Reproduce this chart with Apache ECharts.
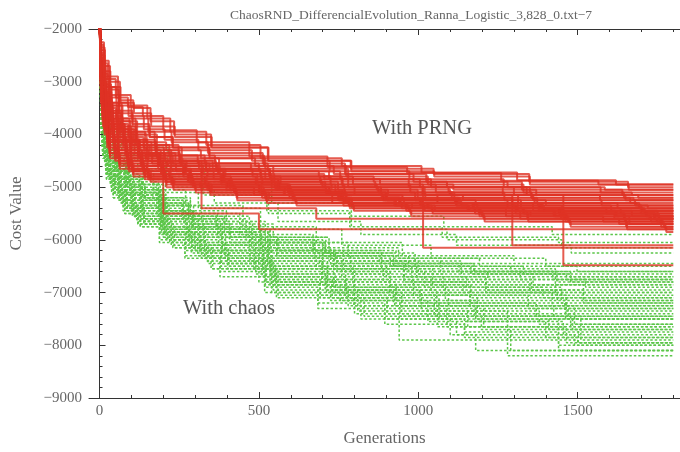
<!DOCTYPE html>
<html>
<head>
<meta charset="utf-8">
<script src="https://cdn.jsdelivr.net/npm/echarts@6/dist/echarts.min.js"></script>
<style>html,body{margin:0;padding:0;background:#fff}#c{width:680px;height:452px}</style>
</head>
<body>
<div id="c"></div>
<script>
const titleText = "ChaosRND_DifferencialEvolution_Ranna_Logistic_3,828_0.txt\u22127";
const xName = "Generations";
const yName = "Cost Value";
const labelPRNG = "With PRNG";
const labelChaos = "With chaos";
const xMajorTicks = [0, 500, 1000, 1500];
const xMinorTicks = [100,200,300,400,600,700,800,900,1100,1200,1300,1400,1600,1700,1800];
const xRange = [-33, 1821];
const yRange = [-9000, -2000];

// chaotic-map runs (green, dashed): [generation, best cost]
const greenRuns = [
 [[0,-1800],[3,-2400],[8,-3100],[16,-3450],[33,-3750],[66,-4000],[112,-4250],[215,-4600],[330,-4900],[540,-5300],[790,-5550],[1080,-5750],[1420,-5900],[1800,-5900]],
 [[0,-1800],[3,-2600],[9,-3400],[18,-3800],[35,-4100],[70,-4400],[120,-4650],[230,-5000],[360,-5300],[560,-5650],[820,-5900],[1120,-6100],[1480,-6250],[1800,-6250]],
 [[0,-1800],[2,-2700],[7,-3600],[14,-4100],[28,-4500],[55,-4850],[95,-5100],[180,-5500],[290,-5800],[470,-6200],[700,-6500],[980,-6800],[1350,-7000],[1800,-7000]],
 [[0,-1800],[3,-2900],[8,-3900],[15,-4400],[30,-4800],[58,-5150],[100,-5450],[195,-5850],[300,-6200],[490,-6650],[740,-7000],[1010,-7350],[1380,-7600],[1800,-7600]],
 [[0,-1800],[3,-3000],[9,-4100],[17,-4550],[34,-4900],[62,-5250],[105,-5550],[210,-6000],[320,-6350],[520,-6850],[780,-7250],[1060,-7650],[1290,-8100],[1800,-8100]],
 [[0,-1800],[2,-2500],[6,-3300],[13,-3800],[27,-4150],[52,-4450],[90,-4700],[170,-5050],[270,-5350],[450,-5750],[680,-6050],[950,-6300],[1300,-6450],[1800,-6450]],
 [[0,-1800],[3,-2800],[8,-3700],[16,-4200],[31,-4600],[60,-4950],[102,-5200],[200,-5600],[310,-5950],[500,-6350],[760,-6700],[1040,-7000],[1420,-7250],[1800,-7250]],
 [[0,-1800],[3,-2700],[8,-3550],[15,-4000],[29,-4350],[57,-4700],[98,-4950],[190,-5350],[295,-5650],[480,-6050],[720,-6400],[1000,-6650],[1360,-6850],[1800,-6850]],
 [[0,-1800],[4,-3000],[10,-4200],[19,-4650],[37,-5000],[72,-5350],[118,-5640],[225,-6100],[340,-6450],[540,-7000],[800,-7400],[940,-7900],[1500,-7950],[1800,-7950]],
 [[0,-1800],[3,-2600],[7,-3450],[14,-3900],[28,-4300],[55,-4600],[94,-4850],[185,-5250],[285,-5550],[470,-5950],[710,-6250],[990,-6500],[1330,-6650],[1800,-6650]],
 [[0,-1800],[3,-2900],[9,-3950],[17,-4450],[33,-4850],[65,-5200],[108,-5500],[205,-5900],[315,-6250],[510,-6700],[770,-7050],[1050,-7450],[1410,-7700],[1800,-7700]],
 [[0,-1800],[2,-2800],[7,-3800],[15,-4350],[30,-4750],[59,-5100],[100,-5400],[192,-5800],[298,-6100],[485,-6550],[735,-6900],[1005,-7200],[1370,-7450],[1800,-7450]],
 [[0,-1800],[3,-2500],[8,-3250],[16,-3650],[32,-3950],[64,-4250],[110,-4500],[210,-4850],[325,-5150],[530,-5500],[790,-5800],[1090,-6000],[1450,-6150],[1800,-6150]],
 [[0,-1800],[4,-3000],[10,-4150],[20,-4700],[38,-5050],[75,-5400],[122,-5700],[235,-6150],[355,-6550],[560,-7050],[830,-7450],[1100,-7800],[1180,-8100],[1800,-8100]],
 [[0,-1800],[3,-2750],[8,-3650],[15,-4150],[30,-4550],[58,-4900],[99,-5150],[195,-5550],[300,-5850],[490,-6250],[745,-6600],[1020,-6900],[1390,-7100],[1800,-7100]],
 [[0,-1800],[3,-2850],[9,-3850],[17,-4400],[33,-4800],[64,-5150],[106,-5450],[205,-5850],[318,-6200],[515,-6700],[775,-7100],[1065,-7500],[1440,-7800],[1800,-7800]],
 [[0,-1800],[2,-2600],[7,-3500],[14,-3950],[28,-4350],[54,-4650],[92,-4900],[180,-5300],[280,-5600],[460,-6000],[700,-6300],[970,-6600],[1320,-6750],[1800,-6750]],
 [[0,-1800],[3,-2700],[8,-3600],[16,-4100],[31,-4500],[61,-4850],[104,-5100],[202,-5500],[312,-5800],[505,-6200],[765,-6550],[1045,-6850],[1430,-7050],[1800,-7050]],
 [[0,-1800],[4,-2950],[10,-4050],[19,-4600],[36,-4950],[70,-5300],[115,-5600],[220,-6050],[335,-6400],[545,-6950],[810,-7350],[1280,-8200],[1800,-8200]],
 [[0,-1800],[3,-2550],[8,-3350],[15,-3800],[30,-4150],[60,-4450],[103,-4700],[200,-5100],[310,-5400],[505,-5800],[760,-6100],[1040,-6350],[1400,-6500],[1800,-6500]],
 [[0,-1800],[3,-2800],[9,-3750],[17,-4250],[33,-4650],[66,-5000],[111,-5300],[212,-5700],[328,-6050],[532,-6500],[795,-6850],[1085,-7150],[1460,-7350],[1800,-7350]],
 [[0,-1800],[2,-2650],[7,-3550],[14,-4050],[28,-4450],[56,-4800],[96,-5050],[188,-5450],[292,-5750],[478,-6150],[725,-6500],[995,-6750],[1355,-6950],[1800,-6950]],
 [[0,-1800],[3,-2900],[8,-3950],[16,-4500],[31,-4900],[61,-5250],[103,-5550],[200,-5950],[308,-6300],[500,-6800],[755,-7150],[1030,-7550],[1400,-7850],[1800,-7850]],
 [[0,-1800],[3,-2450],[8,-3200],[16,-3600],[32,-3900],[63,-4200],[108,-4450],[208,-4800],[322,-5100],[525,-5450],[785,-5750],[1075,-5950],[1440,-6050],[1800,-6050]],
 [[0,-1800],[4,-2850],[10,-3800],[18,-4300],[35,-4700],[68,-5050],[113,-5350],[218,-5750],[332,-6100],[538,-6550],[800,-6950],[1095,-7250],[1470,-7500],[1800,-7500]],
 [[0,-1800],[3,-2750],[8,-3700],[15,-4200],[29,-4600],[57,-4950],[97,-5200],[186,-5600],[288,-5950],[472,-6400],[715,-6750],[985,-7050],[1345,-7300],[1800,-7300]],
 [[0,-1800],[3,-2650],[8,-3500],[16,-3950],[32,-4350],[63,-4700],[107,-4950],[207,-5350],[320,-5650],[520,-6050],[780,-6350],[1070,-6600],[1435,-6800],[1800,-6800]],
 [[0,-1800],[3,-2950],[9,-4000],[18,-4550],[34,-4950],[67,-5300],[112,-5600],[214,-6000],[330,-6350],[535,-6850],[798,-7250],[1090,-7650],[1465,-7950],[1800,-7950]],
 [[0,-1800],[2,-2550],[6,-3400],[13,-3850],[26,-4250],[51,-4550],[88,-4800],[168,-5200],[265,-5500],[440,-5900],[670,-6200],[930,-6450],[1290,-6600],[1800,-6600]],
 [[0,-1800],[3,-2800],[8,-3800],[16,-4300],[31,-4700],[62,-5050],[105,-5350],[203,-5750],[315,-6100],[512,-6550],[772,-6950],[1058,-7250],[1425,-7500],[1800,-7500]],
 [[0,-1800],[3,-2700],[9,-3650],[17,-4150],[33,-4550],[65,-4900],[109,-5150],[210,-5550],[325,-5850],[528,-6300],[788,-6650],[1078,-6950],[1448,-7150],[1800,-7150]],
 [[0,-1800],[4,-3000],[10,-4250],[20,-4750],[38,-5100],[74,-5450],[120,-5700],[230,-6150],[350,-6550],[555,-7100],[820,-7500],[1120,-7800],[1490,-8000],[1800,-8000]],
 [[0,-1800],[2,-2600],[5,-3300],[11,-3900],[22,-4300],[44,-4650],[80,-4950],[130,-5200],[190,-5450],[270,-5700],[380,-5950],[520,-6200],[690,-6450],[900,-6700],[1150,-6900],[1450,-7100],[1800,-7100]],
 [[0,-1800],[3,-2800],[6,-3600],[12,-4200],[24,-4600],[47,-4950],[84,-5250],[136,-5500],[198,-5750],[282,-6000],[395,-6300],[540,-6600],[715,-6900],[930,-7150],[1185,-7400],[1490,-7600],[1800,-7600]],
 [[0,-1800],[2,-2500],[5,-3150],[10,-3700],[21,-4100],[42,-4450],[77,-4750],[126,-5000],[184,-5250],[262,-5500],[370,-5750],[508,-6000],[675,-6200],[885,-6400],[1135,-6550],[1430,-6700],[1800,-6700]],
 [[0,-1800],[3,-2900],[6,-3750],[12,-4350],[25,-4750],[49,-5100],[87,-5400],[140,-5650],[204,-5900],[290,-6200],[405,-6500],[552,-6800],[730,-7100],[948,-7400],[1205,-7650],[1510,-7900],[1800,-7900]],
 [[0,-1800],[2,-2700],[5,-3450],[11,-4000],[23,-4400],[45,-4750],[82,-5050],[132,-5300],[193,-5550],[275,-5800],[386,-6100],[528,-6350],[700,-6600],[912,-6850],[1165,-7050],[1465,-7250],[1800,-7250]],
 [[0,-1800],[3,-2550],[6,-3250],[12,-3800],[24,-4200],[46,-4550],[83,-4850],[134,-5100],[196,-5350],[279,-5600],[392,-5850],[535,-6100],[708,-6300],[922,-6500],[1175,-6650],[1478,-6800],[1800,-6800]],
 [[0,-1800],[2,-2950],[5,-3850],[11,-4450],[22,-4850],[43,-5200],[79,-5500],[128,-5750],[188,-6000],[268,-6300],[378,-6600],[518,-6900],[685,-7200],[895,-7500],[1145,-7750],[1440,-8000],[1800,-8000]],
 [[0,-1800],[3,-2650],[6,-3400],[13,-3950],[26,-4350],[50,-4700],[88,-5000],[142,-5250],[206,-5500],[293,-5750],[408,-6000],[556,-6250],[735,-6500],[955,-6750],[1212,-6950],[1518,-7150],[1800,-7150]],
 [[0,-1800],[2,-2750],[5,-3550],[11,-4100],[23,-4500],[45,-4850],[81,-5150],[131,-5400],[191,-5650],[273,-5950],[384,-6250],[526,-6500],[698,-6800],[910,-7050],[1162,-7300],[1462,-7500],[1800,-7500]],
 [[0,-1800],[3,-2450],[6,-3100],[12,-3650],[24,-4050],[47,-4400],[85,-4700],[137,-4950],[200,-5200],[285,-5450],[398,-5700],[545,-5950],[720,-6150],[938,-6350],[1192,-6500],[1498,-6600],[1800,-6600]],
 [[0,-1800],[2,-2850],[5,-3700],[11,-4300],[22,-4700],[44,-5050],[80,-5350],[129,-5600],[189,-5850],[270,-6150],[381,-6450],[522,-6750],[692,-7050],[902,-7300],[1155,-7550],[1455,-7750],[1800,-7750]],
 [[0,-1800],[3,-2600],[6,-3350],[13,-3900],[26,-4300],[50,-4650],[89,-4950],[143,-5200],[208,-5450],[296,-5700],[412,-5950],[560,-6200],[740,-6400],[960,-6600],[1218,-6750],[1525,-6900],[1800,-6900]],
 [[0,-1800],[2,-2650],[5,-3400],[11,-3950],[22,-4350],[43,-4700],[78,-5000],[127,-5250],[186,-5500],[265,-5750],[374,-6050],[514,-6300],[680,-6550],[890,-6800],[1140,-7000],[1436,-7200],[1800,-7200]],
 [[0,-1800],[3,-2950],[6,-3800],[12,-4400],[25,-4800],[48,-5150],[86,-5450],[139,-5700],[202,-5950],[288,-6250],[402,-6550],[550,-6850],[725,-7150],[942,-7450],[1198,-7700],[1502,-7950],[1800,-7950]],
 [[0,-1800],[2,-2550],[5,-3200],[10,-3750],[21,-4150],[42,-4500],[76,-4800],[124,-5050],[182,-5300],[259,-5550],[366,-5800],[504,-6050],[670,-6250],[878,-6450],[1128,-6600],[1422,-6750],[1800,-6750]],
 [[0,-1800],[3,-2800],[6,-3650],[12,-4250],[24,-4650],[47,-5000],[84,-5300],[135,-5550],[197,-5800],[281,-6100],[394,-6400],[538,-6700],[712,-7000],[926,-7250],[1180,-7500],[1484,-7700],[1800,-7700]],
 [[0,-1800],[2,-2700],[5,-3500],[11,-4050],[23,-4450],[45,-4800],[81,-5100],[131,-5350],[192,-5600],[274,-5850],[385,-6150],[527,-6400],[699,-6650],[911,-6900],[1163,-7100],[1464,-7300],[1800,-7300]],
 [[0,-1800],[3,-2500],[6,-3200],[12,-3750],[24,-4150],[46,-4500],[83,-4800],[134,-5050],[196,-5300],[279,-5550],[392,-5800],[535,-6050],[708,-6250],[922,-6450],[1175,-6600],[1478,-6700],[1800,-6700]],
 [[0,-1800],[2,-2900],[5,-3750],[11,-4350],[22,-4750],[44,-5100],[80,-5400],[129,-5650],[189,-5900],[270,-6200],[381,-6500],[522,-6800],[692,-7100],[902,-7400],[1155,-7650],[1455,-7850],[1800,-7850]],
 [[0,-1800],[3,-2600],[6,-3350],[13,-3900],[26,-4300],[50,-4650],[88,-4950],[142,-5200],[206,-5450],[293,-5700],[408,-5950],[556,-6200],[735,-6450],[955,-6700],[1212,-6850],[1518,-7000],[1800,-7000]],
 [[0,-1800],[2,-2750],[5,-3550],[11,-4100],[23,-4500],[45,-4850],[81,-5150],[131,-5400],[191,-5650],[273,-5900],[384,-6200],[526,-6450],[698,-6750],[910,-7000],[1162,-7200],[1462,-7400],[1800,-7400]],
 [[0,-1800],[3,-2850],[6,-3700],[12,-4300],[25,-4700],[49,-5050],[87,-5350],[140,-5600],[204,-5850],[290,-6150],[405,-6450],[552,-6750],[730,-7000],[948,-7250],[1205,-7450],[1510,-7650],[1800,-7650]],
 [[0,-1800],[2,-2600],[5,-3300],[10,-3850],[21,-4250],[42,-4600],[77,-4900],[126,-5150],[184,-5400],[262,-5650],[370,-5900],[508,-6150],[675,-6350],[885,-6550],[1135,-6700],[1430,-6850],[1800,-6850]],
 [[0,-1800],[3,-2700],[6,-3500],[12,-4050],[24,-4450],[47,-4800],[84,-5100],[136,-5350],[198,-5600],[282,-5900],[395,-6200],[540,-6500],[715,-6800],[930,-7050],[1185,-7250],[1490,-7450],[1800,-7450]],
 [[0,-1800],[2,-2950],[5,-3850],[11,-4450],[22,-4850],[43,-5200],[79,-5500],[128,-5750],[188,-6050],[268,-6350],[378,-6700],[518,-7000],[685,-7300],[895,-7600],[1145,-7850],[1440,-8100],[1800,-8100]],
 [[0,-1800],[3,-2650],[6,-3400],[13,-3950],[26,-4350],[50,-4700],[88,-5000],[142,-5250],[206,-5500],[293,-5750],[408,-6050],[556,-6300],[735,-6550],[955,-6800],[1212,-7000],[1518,-7200],[1800,-7200]],
 [[0,-1800],[2,-2550],[5,-3250],[11,-3800],[23,-4200],[45,-4550],[82,-4850],[132,-5100],[193,-5350],[275,-5600],[386,-5850],[528,-6100],[700,-6300],[912,-6500],[1165,-6650],[1465,-6750],[1800,-6750]],
 [[0,-1800],[3,-2800],[6,-3600],[12,-4200],[24,-4600],[46,-4950],[83,-5250],[134,-5500],[196,-5750],[279,-6050],[392,-6350],[535,-6650],[708,-6950],[922,-7200],[1175,-7450],[1478,-7650],[1800,-7650]]
];

// pseudo-random runs (red, solid): [generation, best cost]
const redRuns = [
 [[0,-1700],[5,-2250],[14,-2600],[29,-2900],[58,-3250],[98,-3450],[150,-3700],[222,-3950],[335,-4200],[505,-4450],[760,-4600],[1010,-4720],[1310,-4870],[1620,-4950],[1800,-4950]],
 [[0,-1700],[6,-2600],[16,-3000],[32,-3300],[62,-3600],[104,-3850],[158,-4050],[230,-4250],[345,-4450],[520,-4650],[780,-4850],[1040,-5000],[1340,-5150],[1650,-5250],[1800,-5250]],
 [[0,-1700],[4,-2900],[13,-3500],[27,-3900],[55,-4150],[95,-4350],[145,-4500],[210,-4650],[320,-4800],[490,-4950],[740,-5100],[990,-5250],[1280,-5400],[1590,-5500],[1800,-5500]],
 [[0,-1700],[5,-3300],[15,-3900],[31,-4350],[61,-4550],[101,-4700],[152,-4850],[225,-4950],[338,-5050],[510,-5200],[765,-5350],[1020,-5450],[1320,-5600],[1630,-5700],[1800,-5700]],
 [[0,-1700],[6,-2400],[17,-2800],[34,-3100],[66,-3400],[108,-3600],[162,-3850],[236,-4050],[352,-4250],[530,-4500],[790,-4700],[1050,-4800],[1350,-4950],[1660,-5050],[1800,-5050]],
 [[0,-1700],[5,-3000],[14,-3650],[29,-4100],[57,-4350],[97,-4550],[148,-4700],[218,-4800],[330,-4950],[500,-5100],[755,-5250],[1005,-5350],[1305,-5500],[1615,-5600],[1800,-5600]],
 [[0,-1700],[4,-2700],[12,-3200],[26,-3600],[53,-3900],[92,-4150],[140,-4350],[205,-4500],[312,-4650],[480,-4800],[725,-4950],[975,-5100],[1270,-5250],[1575,-5350],[1800,-5350]],
 [[0,-1700],[5,-3400],[16,-4000],[33,-4450],[63,-4650],[106,-4800],[160,-4900],[232,-5050],[348,-5150],[525,-5300],[785,-5400],[1045,-5500],[1345,-5650],[1655,-5800],[1800,-5800]],
 [[0,-1700],[6,-2500],[15,-2900],[30,-3150],[60,-3450],[100,-3700],[153,-3950],[226,-4150],[340,-4350],[512,-4550],[770,-4750],[1025,-4900],[1325,-5050],[1640,-5150],[1800,-5150]],
 [[0,-1700],[5,-2800],[14,-3350],[28,-3750],[56,-4000],[96,-4250],[146,-4450],[214,-4600],[325,-4750],[495,-4900],[748,-5050],[998,-5200],[1295,-5350],[1605,-5450],[1800,-5450]],
 [[0,-1700],[4,-3100],[13,-3750],[27,-4200],[54,-4450],[93,-4650],[142,-4800],[208,-4900],[316,-5000],[485,-5150],[730,-5300],[980,-5400],[1275,-5550],[1580,-5650],[1800,-5650]],
 [[0,-1700],[6,-2350],[16,-2700],[33,-3000],[64,-3350],[106,-3500],[160,-3750],[234,-4000],[350,-4250],[528,-4500],[788,-4650],[1048,-4750],[1348,-4900],[1658,-5000],[1800,-5000]],
 [[0,-1700],[5,-2950],[15,-3550],[30,-4000],[59,-4250],[99,-4450],[151,-4600],[223,-4750],[336,-4900],[508,-5050],[762,-5200],[1012,-5300],[1312,-5450],[1622,-5550],[1800,-5550]],
 [[0,-1700],[4,-2650],[12,-3150],[25,-3500],[52,-3800],[90,-4050],[138,-4250],[202,-4400],[308,-4550],[475,-4700],[720,-4850],[970,-5000],[1265,-5150],[1570,-5250],[1800,-5250]],
 [[0,-1700],[5,-3200],[15,-3850],[31,-4300],[61,-4500],[102,-4650],[154,-4800],[227,-4900],[342,-5000],[515,-5150],[772,-5300],[1028,-5400],[1328,-5500],[1645,-5600],[1800,-5600]],
 [[0,-1700],[6,-2750],[17,-3250],[34,-3600],[65,-3900],[108,-4150],[163,-4350],[238,-4500],[355,-4650],[535,-4800],[795,-4950],[1055,-5100],[1355,-5200],[1665,-5300],[1800,-5300]],
 [[0,-1700],[5,-3050],[14,-3700],[29,-4150],[58,-4400],[98,-4600],[149,-4750],[220,-4850],[332,-4950],[502,-5100],[758,-5250],[1008,-5350],[1308,-5450],[1618,-5550],[1800,-5550]],
 [[0,-1700],[4,-2450],[12,-2850],[26,-3100],[53,-3400],[91,-3650],[139,-3900],[204,-4100],[310,-4300],[478,-4500],[722,-4700],[972,-4850],[1268,-5000],[1572,-5100],[1800,-5100]],
 [[0,-1700],[5,-2850],[15,-3400],[30,-3800],[60,-4050],[101,-4300],[153,-4500],[225,-4650],[339,-4800],[511,-4950],[768,-5100],[1022,-5250],[1322,-5400],[1635,-5500],[1800,-5500]],
 [[0,-1700],[6,-3350],[16,-3950],[32,-4400],[63,-4600],[105,-4750],[158,-4850],[231,-5000],[346,-5100],[522,-5250],[782,-5350],[1042,-5450],[1342,-5600],[1652,-5750],[1800,-5750]],
 [[0,-1700],[5,-2900],[14,-3500],[28,-3900],[57,-4150],[97,-4400],[200,-5500],[500,-5800],[1800,-5800]],
 [[0,-1700],[5,-2700],[15,-3200],[30,-3550],[60,-3850],[100,-4100],[150,-4300],[225,-4500],[335,-4650],[505,-4800],[760,-4950],[1015,-6150],[1800,-6150]],
 [[0,-1700],[6,-2800],[16,-3300],[32,-3700],[62,-3950],[104,-4200],[157,-4400],[230,-4550],[345,-4700],[520,-4850],[780,-5000],[1020,-5150],[1295,-6100],[1800,-6100]],
 [[0,-1700],[5,-2600],[14,-3100],[28,-3450],[57,-3750],[97,-4000],[148,-4200],[219,-4400],[330,-4550],[500,-4700],[755,-4850],[1005,-5000],[1300,-5150],[1455,-6480],[1800,-6480]],
 [[0,-1700],[5,-3000],[15,-3600],[30,-4050],[60,-4300],[100,-4500],[320,-5400],[680,-5600],[1800,-5600]],
 [[0,-1700],[4,-2550],[13,-3050],[27,-3400],[54,-3700],[94,-3950],[143,-4150],[209,-4300],[318,-4450],[488,-4600],[735,-4750],[985,-4900],[1280,-5000],[1585,-5050],[1800,-5050]],
 [[0,-1700],[6,-2950],[17,-3450],[34,-3850],[66,-4100],[110,-4350],[165,-4550],[240,-4700],[358,-4850],[540,-5000],[800,-5150],[1060,-5300],[1360,-5450],[1670,-5550],[1800,-5550]],
 [[0,-1700],[5,-3150],[15,-3800],[31,-4250],[61,-4500],[103,-4650],[155,-4800],[228,-4950],[343,-5050],[518,-5200],[775,-5300],[1032,-5400],[1332,-5500],[1648,-5650],[1800,-5650]],
 [[0,-1700],[4,-2300],[12,-2650],[25,-2950],[51,-3300],[89,-3480],[136,-3650],[200,-3920],[305,-4150],[470,-4420],[715,-4620],[965,-4730],[1260,-4880],[1565,-4950],[1800,-4950]],
 [[0,-1700],[5,-2750],[14,-3300],[29,-3700],[58,-3950],[98,-4200],[150,-4400],[221,-4550],[334,-4700],[506,-4850],[763,-5000],[1013,-5150],[1313,-5300],[1625,-5400],[1800,-5400]],
 [[0,-1700],[6,-3250],[16,-3900],[33,-4350],[64,-4550],[107,-4700],[161,-4850],[235,-4950],[352,-5100],[532,-5200],[792,-5350],[1052,-5450],[1352,-5550],[1662,-5700],[1800,-5700]],
 [[0,-1700],[5,-2500],[15,-2950],[31,-3250],[61,-3550],[103,-3800],[156,-4050],[229,-4250],[344,-4400],[516,-4600],[774,-4800],[1030,-4950],[1330,-5100],[1645,-5200],[1800,-5200]],
 [[0,-1700],[3,-2500],[9,-3000],[20,-3400],[41,-3800],[78,-4100],[125,-4350],[190,-4550],[270,-4700],[390,-4850],[560,-5000],[720,-5100],[900,-5200],[1130,-5300],[1390,-5400],[1700,-5450],[1800,-5450]],
 [[0,-1700],[4,-2900],[10,-3400],[21,-3800],[44,-4100],[83,-4350],[131,-4550],[196,-4700],[282,-4850],[405,-4950],[590,-5100],[760,-5200],[940,-5300],[1170,-5400],[1440,-5500],[1740,-5600],[1800,-5600]],
 [[0,-1700],[3,-2300],[8,-2700],[19,-3100],[38,-3450],[72,-3750],[118,-4000],[180,-4250],[258,-4450],[375,-4600],[545,-4750],[705,-4850],[880,-4950],[1110,-5050],[1370,-5150],[1690,-5200],[1800,-5200]],
 [[0,-1700],[5,-3100],[11,-3600],[23,-4000],[47,-4300],[88,-4500],[137,-4650],[204,-4800],[292,-4950],[420,-5050],[605,-5200],[780,-5300],[960,-5400],[1190,-5500],[1460,-5600],[1760,-5700],[1800,-5700]],
 [[0,-1700],[3,-2650],[9,-3150],[20,-3550],[40,-3900],[76,-4150],[122,-4400],[186,-4600],[265,-4750],[385,-4900],[555,-5050],[715,-5150],[890,-5250],[1120,-5350],[1380,-5400],[1710,-5500],[1800,-5500]],
 [[0,-1700],[4,-2800],[10,-3300],[22,-3700],[45,-4050],[85,-4300],[134,-4500],[200,-4650],[287,-4800],[412,-4950],[598,-5050],[770,-5150],[950,-5250],[1180,-5350],[1450,-5450],[1750,-5550],[1800,-5550]],
 [[0,-1700],[3,-2400],[8,-2850],[18,-3250],[37,-3600],[70,-3900],[115,-4150],[176,-4350],[252,-4550],[368,-4700],[535,-4850],[695,-4950],[870,-5050],[1100,-5150],[1360,-5250],[1680,-5350],[1800,-5350]],
 [[0,-1700],[5,-3200],[11,-3700],[24,-4100],[48,-4400],[90,-4600],[140,-4750],[208,-4900],[298,-5000],[428,-5150],[612,-5250],[790,-5350],[970,-5450],[1200,-5550],[1470,-5650],[1770,-5750],[1800,-5750]],
 [[0,-1700],[3,-2550],[9,-3050],[20,-3450],[41,-3800],[79,-4100],[126,-4300],[192,-4500],[273,-4650],[395,-4800],[568,-4950],[728,-5050],[905,-5150],[1140,-5250],[1400,-5350],[1720,-5400],[1800,-5400]],
 [[0,-1700],[4,-2950],[10,-3450],[21,-3850],[43,-4150],[82,-4400],[130,-4600],[194,-4750],[279,-4900],[400,-5000],[582,-5150],[752,-5250],[930,-5350],[1160,-5450],[1430,-5550],[1730,-5650],[1800,-5650]],
 [[0,-1700],[3,-2350],[8,-2750],[18,-3050],[36,-3400],[69,-3700],[113,-3950],[173,-4200],[248,-4400],[362,-4550],[528,-4700],[688,-4800],[860,-4900],[1090,-5000],[1350,-5100],[1670,-5150],[1800,-5150]],
 [[0,-1700],[5,-3050],[11,-3550],[23,-3950],[46,-4250],[87,-4450],[136,-4600],[202,-4750],[290,-4850],[416,-5000],[600,-5100],[775,-5200],[955,-5300],[1185,-5400],[1455,-5500],[1755,-5600],[1800,-5600]],
 [[0,-1700],[3,-2700],[9,-3200],[19,-3600],[39,-3950],[74,-4200],[120,-4400],[183,-4600],[262,-4750],[380,-4900],[550,-5000],[710,-5100],[885,-5200],[1115,-5300],[1375,-5350],[1700,-5450],[1800,-5450]],
 [[0,-1700],[4,-2850],[10,-3350],[22,-3750],[44,-4100],[84,-4350],[133,-4550],[198,-4700],[285,-4850],[408,-4950],[594,-5100],[765,-5200],[945,-5300],[1175,-5400],[1445,-5500],[1745,-5550],[1800,-5550]],
 [[0,-1700],[3,-2450],[8,-2900],[18,-3300],[38,-3650],[71,-3950],[116,-4200],[178,-4400],[255,-4600],[372,-4750],[540,-4900],[700,-5000],[875,-5100],[1105,-5200],[1365,-5300],[1685,-5350],[1800,-5350]],
 [[0,-1700],[5,-3150],[11,-3650],[24,-4050],[48,-4350],[89,-4550],[139,-4700],[206,-4850],[295,-4950],[424,-5100],[608,-5200],[785,-5300],[965,-5400],[1195,-5500],[1465,-5600],[1765,-5700],[1800,-5700]],
 [[0,-1700],[3,-2600],[9,-3100],[20,-3500],[40,-3850],[77,-4100],[124,-4350],[188,-4550],[268,-4700],[388,-4850],[562,-5000],[722,-5100],[898,-5200],[1125,-5300],[1385,-5400],[1705,-5450],[1800,-5450]],
 [[0,-1700],[4,-3000],[10,-3500],[22,-3900],[45,-4200],[86,-4450],[134,-4650],[199,-4800],[286,-4950],[410,-5050],[596,-5200],[768,-5300],[948,-5400],[1178,-5500],[1448,-5600],[1748,-5650],[1800,-5650]],
 [[0,-1700],[3,-2750],[9,-3250],[19,-3650],[39,-4000],[75,-4250],[121,-4450],[184,-4650],[263,-4800],[382,-4950],[552,-5050],[712,-5150],[888,-5250],[1118,-5350],[1378,-5450],[1698,-5500],[1800,-5500]],
 [[0,-1700],[5,-3250],[11,-3750],[24,-4150],[49,-4450],[91,-4650],[141,-4800],[209,-4950],[300,-5050],[430,-5200],[615,-5300],[795,-5400],[975,-5500],[1205,-5600],[1475,-5700],[1775,-5800],[1800,-5800]],
 [[0,-1700],[3,-2500],[8,-2950],[19,-3350],[38,-3700],[73,-4000],[119,-4250],[181,-4450],[260,-4600],[377,-4750],[548,-4900],[708,-5000],[883,-5100],[1113,-5200],[1373,-5300],[1693,-5400],[1800,-5400]],
 [[0,-1700],[4,-2900],[10,-3400],[21,-3800],[43,-4150],[81,-4400],[129,-4600],[193,-4750],[277,-4900],[398,-5050],[578,-5150],[748,-5250],[925,-5350],[1155,-5450],[1425,-5550],[1725,-5600],[1800,-5600]],
 [[0,-1700],[3,-2650],[9,-3150],[20,-3550],[41,-3900],[78,-4150],[125,-4400],[190,-4600],[271,-4750],[392,-4900],[565,-5050],[725,-5150],[902,-5250],[1135,-5350],[1395,-5450],[1715,-5550],[1800,-5550]],
 [[0,-1700],[5,-3100],[11,-3600],[23,-4000],[47,-4300],[88,-4500],[138,-4700],[205,-4850],[293,-5000],[422,-5100],[606,-5250],[782,-5350],[962,-5450],[1192,-5550],[1462,-5650],[1762,-5750],[1800,-5750]],
 [[0,-1700],[3,-2350],[8,-2800],[18,-3200],[37,-3550],[70,-3850],[114,-4100],[175,-4300],[250,-4500],[365,-4650],[532,-4800],[692,-4900],[865,-5000],[1095,-5100],[1355,-5200],[1675,-5250],[1800,-5250]],
 [[0,-1700],[4,-2800],[10,-3300],[22,-3700],[44,-4050],[84,-4300],[132,-4500],[197,-4700],[283,-4850],[406,-5000],[592,-5100],[762,-5200],[942,-5300],[1172,-5400],[1442,-5500],[1742,-5600],[1800,-5600]],
 [[0,-1700],[3,-2600],[9,-3100],[20,-3500],[40,-3850],[77,-4150],[123,-4400],[187,-4600],[267,-4750],[387,-4900],[560,-5050],[720,-5150],[895,-5250],[1122,-5300],[1382,-5400],[1702,-5450],[1800,-5450]],
 [[0,-1700],[5,-3350],[11,-3850],[24,-4250],[49,-4500],[92,-4700],[142,-4850],[210,-5000],[302,-5100],[432,-5250],[618,-5350],[798,-5450],[978,-5550],[1208,-5650],[1478,-5750],[1778,-5850],[1800,-5850]]
];

const FONT = "Liberation Serif";
const axisColor = "#333";
const textColor = "#666";

const series = [];
greenRuns.forEach(run => series.push({
  type: 'line', data: run, step: 'end', symbol: 'none', silent: true,
  xAxisIndex: 0, yAxisIndex: 0,
  lineStyle: { color: '#5cc64a', width: 1.5, type: [2.5, 2] }
}));
redRuns.forEach(run => series.push({
  type: 'line', data: run, step: 'end', symbol: 'none', silent: true,
  xAxisIndex: 0, yAxisIndex: 0,
  lineStyle: { color: 'rgba(222,50,36,0.8)', width: 2 }
}));

function xAx(pos, ticks, len, line, labels) {
  return {
    type: 'value', position: pos, min: xRange[0], max: xRange[1],
    axisLine: { show: line, onZero: false, lineStyle: { color: axisColor, width: 1 } },
    axisTick: { show: true, inside: true, length: len, customValues: ticks, lineStyle: { color: axisColor } },
    axisLabel: labels ? { show: true, customValues: ticks, color: textColor, fontFamily: FONT, fontSize: 15, margin: 6,
      formatter: v => String(v) } : { show: false },
    splitLine: { show: false }
  };
}

const xAxes = [
  xAx('bottom', xMajorTicks, 6, true, true),
  xAx('bottom', xMinorTicks, 3, false, false),
  xAx('top', xMajorTicks, 6, true, false),
  xAx('top', xMinorTicks, 3, false, false)
];
xAxes[0].name = xName;
xAxes[0].nameLocation = 'middle';
xAxes[0].nameGap = 32;
xAxes[0].nameTextStyle = { color: textColor, fontFamily: FONT, fontSize: 17 };

const option = {
  animation: false,
  backgroundColor: '#fff',
  title: {
    text: titleText, left: 406, top: 3, textAlign: 'center',
    textStyle: { color: textColor, fontFamily: FONT, fontSize: 13.5, fontWeight: 'normal' }
  },
  grid: { left: 86, right: 0, top: 29, bottom: 52, containLabel: false },
  xAxis: xAxes,
  yAxis: [{
    type: 'value', min: yRange[0], max: yRange[1], interval: 1000,
    name: yName, nameLocation: 'middle', nameGap: 64, nameRotate: 90,
    nameTextStyle: { color: textColor, fontFamily: FONT, fontSize: 17 },
    axisLine: { show: true, lineStyle: { color: axisColor, width: 1 } },
    axisTick: { show: true, inside: true, length: 6, lineStyle: { color: axisColor } },
    minorTick: { show: true, splitNumber: 5, length: 3, lineStyle: { color: axisColor } },
    axisLabel: { color: textColor, fontFamily: FONT, fontSize: 15, margin: 7,
      formatter: v => String(v).replace('-', '\u2212') },
    splitLine: { show: false }, minorSplitLine: { show: false }
  }],
  graphic: [
    { type: 'text', left: 372, top: 118, silent: true,
      style: { text: labelPRNG, fill: '#555', font: '20.5px "Liberation Serif"' } },
    { type: 'text', left: 183, top: 298, silent: true,
      style: { text: labelChaos, fill: '#555', font: '20.5px "Liberation Serif"' } }
  ],
  series: series
};

const chart = echarts.init(document.getElementById('c'), null, { renderer: 'canvas' });
chart.setOption(option);
</script>
</body>
</html>
